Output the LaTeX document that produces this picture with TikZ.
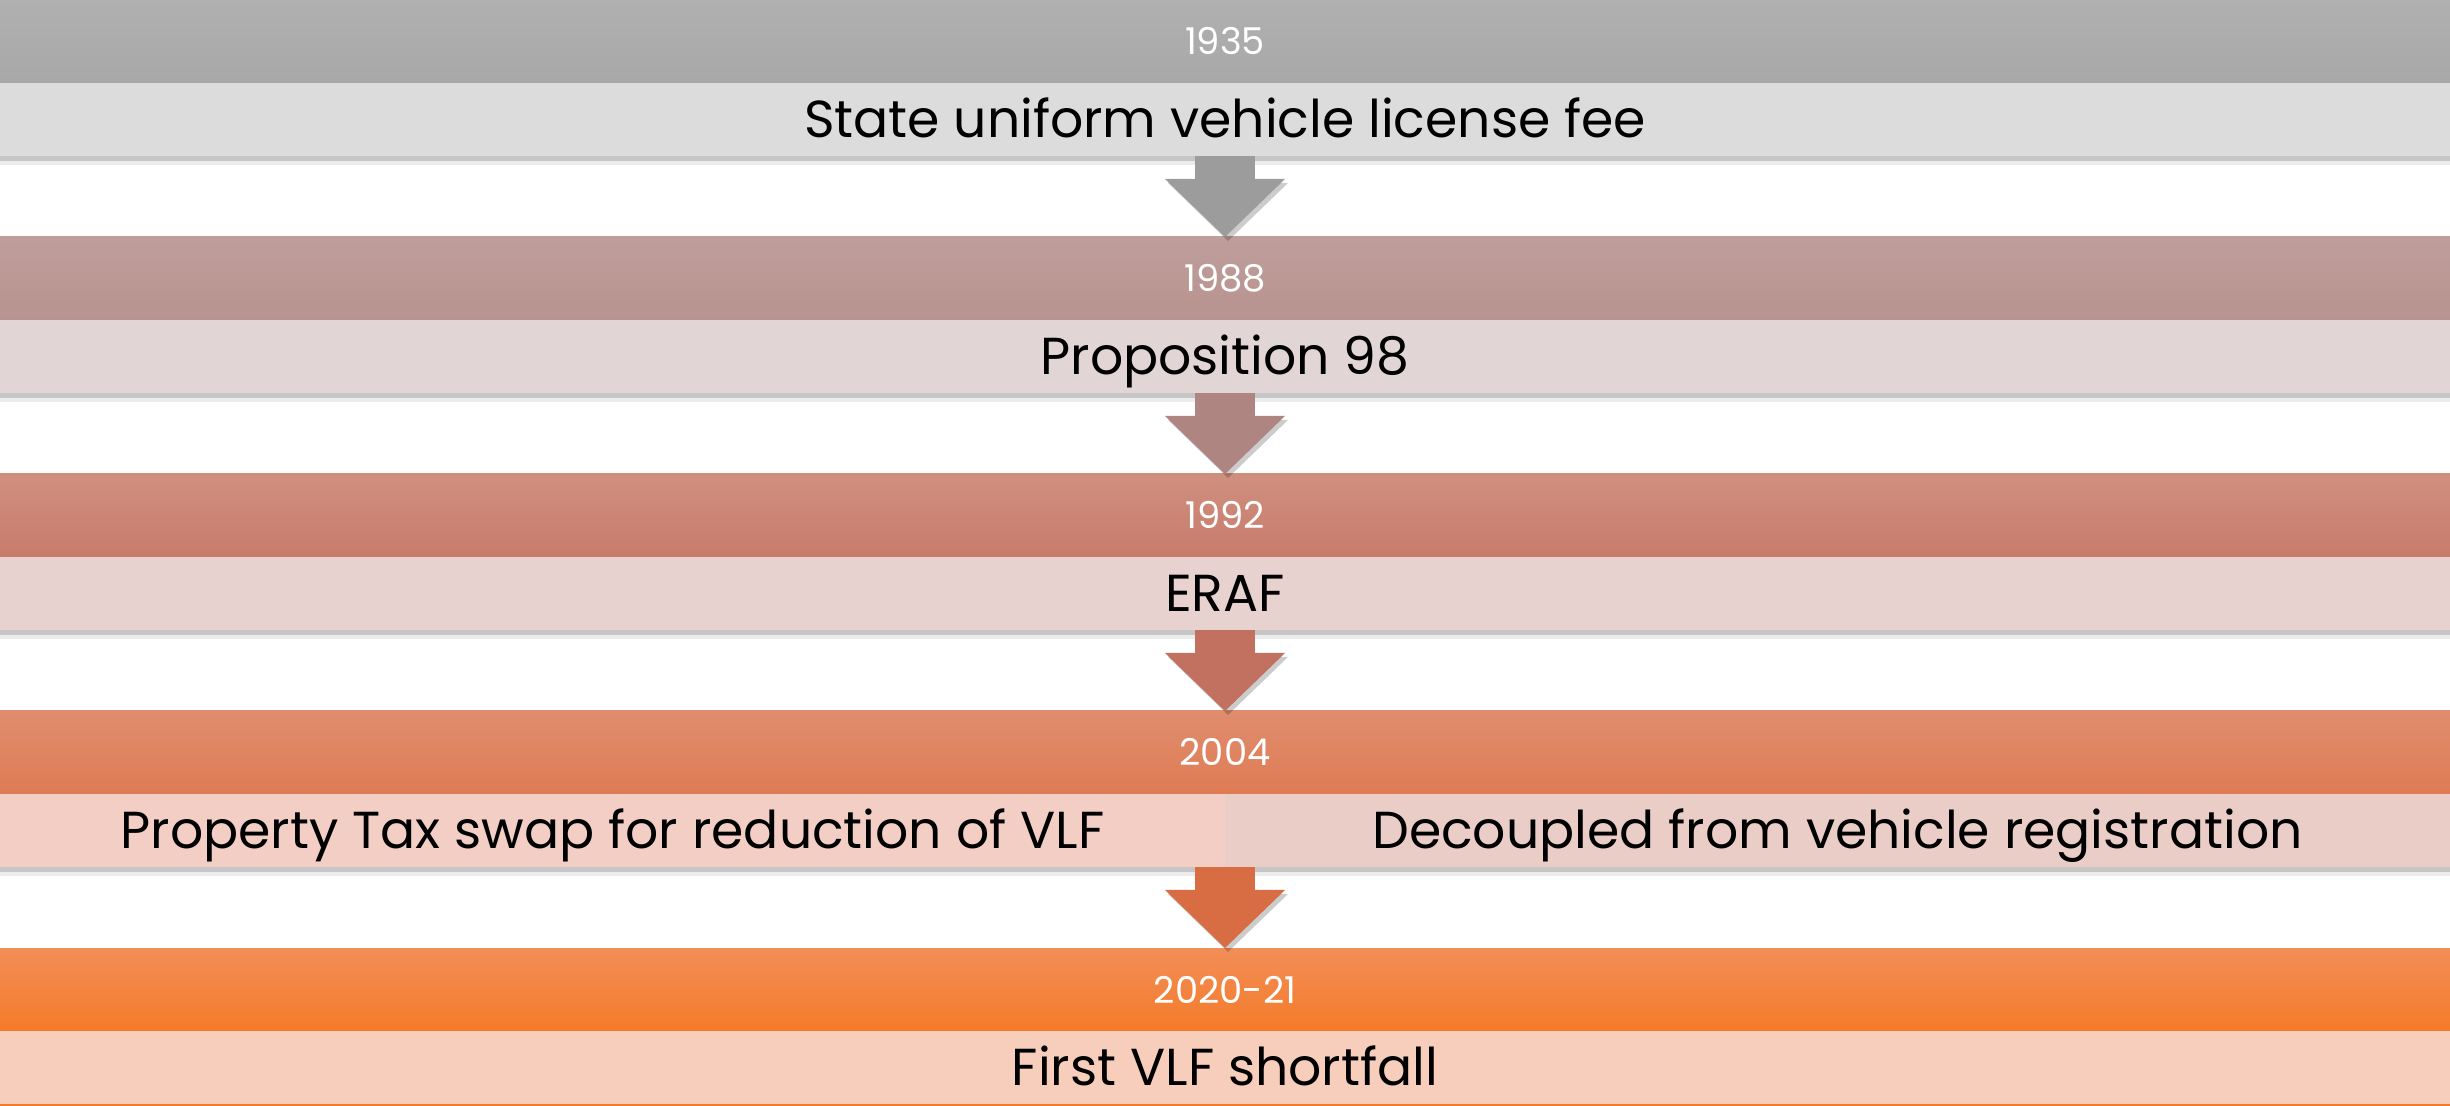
\documentclass[tikz,border=0pt]{standalone}
\usepackage{fontspec}
\setmainfont{Poppins}
\usetikzlibrary{positioning,arrows.meta,shadows}
% Cores
\definecolor{yearAtop}{HTML}{B0B0B0}
\definecolor{yearAbot}{HTML}{A8A8A8}
\definecolor{bodyA}{HTML}{DCDCDC}
\definecolor{arrA}{HTML}{9C9C9C}
\definecolor{yearBtop}{HTML}{BE9E9B}
\definecolor{yearBbot}{HTML}{B8938F}
\definecolor{bodyB}{HTML}{E1D5D5}
\definecolor{arrB}{HTML}{AE8581}
\definecolor{yearCtop}{HTML}{CF8F7F}
\definecolor{yearCbot}{HTML}{C87B6B}
\definecolor{bodyC}{HTML}{E7D2D0}
\definecolor{arrC}{HTML}{C2705F}
\definecolor{yearDtop}{HTML}{E08D6E}
\definecolor{yearDbot}{HTML}{DE7B54}
\definecolor{bodyDl}{HTML}{F2CEC5}
\definecolor{bodyDr}{HTML}{EBCDC7}
\definecolor{arrD}{HTML}{D86C42}
\definecolor{yearEtop}{HTML}{F28E58}
\definecolor{yearEbot}{HTML}{F47B29}
\definecolor{bodyE}{HTML}{F7CDBB}
\definecolor{lineE}{HTML}{F47A29}
\begin{document}
\begin{tikzpicture}
	% Estilos
	\tikzstyle{year} = [rectangle, minimum width=24.5cm, minimum height=0.83cm, inner sep=0pt, outer sep=0pt, text=white, font=\fontsize{10.5}{13}\selectfont, text height=0.27cm, text depth=0pt]
	\tikzstyle{event} = [rectangle, minimum width=24.5cm, minimum height=0.73cm, inner sep=0pt, outer sep=0pt, font=\fontsize{14.8}{18}\selectfont, text height=0.36cm, text depth=0pt, drop shadow={shadow xshift=0pt, shadow yshift=-0.09cm, opacity=0.15}, drop shadow={shadow xshift=0pt, shadow yshift=-0.05cm, opacity=0.35}]
	\tikzstyle{halfevent} = [event, minimum width=12.25cm]
	\tikzstyle{arrow} = [line width=0.6cm, -{Triangle[width=1.2cm, length=0.58cm, line width=0pt]}, preaction={draw=black, opacity=0.2, transform canvas={xshift=0.03cm, yshift=-0.04cm}}]
	\useasboundingbox (0,0) rectangle (24.5,-11.06);
	% Nós
	\node (y1935) [year, anchor=north, top color=yearAtop, bottom color=yearAbot] at (12.25,0) {1935};
	\node (e1935) [event, fill=bodyA, below=0cm of y1935] {State uniform vehicle license fee};
	\node (y1988) [year, top color=yearBtop, bottom color=yearBbot, below=0.81cm of e1935] {1988};
	\node (e1988) [event, fill=bodyB, below=0cm of y1988] {Proposition 98};
	\node (y1992) [year, top color=yearCtop, bottom color=yearCbot, below=0.81cm of e1988] {1992};
	\node (e1992) [event, fill=bodyC, below=0cm of y1992] {ERAF};
	\node (y2004) [year, top color=yearDtop, bottom color=yearDbot, below=0.81cm of e1992] {2004};
	\node (e2004a) [halfevent, fill=bodyDl, below right=0cm and 0cm of y2004.south west] {Property Tax swap for reduction of VLF};
	\node (e2004b) [halfevent, fill=bodyDr, right=0cm of e2004a] {Decoupled from vehicle registration};
	\node (y2020) [year, top color=yearEtop, bottom color=yearEbot, below=0.81cm of e2004a.south east] {2020-21};
	\node (e2020) [event, fill=bodyE, below=0cm of y2020] {First VLF shortfall};
	\fill [lineE] (e2020.south west) rectangle ([yshift=-0.03cm]e2020.south east);
	% Setas
	\draw [arrow, arrA] (e1935) -- (y1988);
	\draw [arrow, arrB] (e1988) -- (y1992);
	\draw [arrow, arrC] (e1992) -- (y2004);
	\draw [arrow, arrD] (e2004a.south east) -- (y2020);
\end{tikzpicture}
\end{document}
